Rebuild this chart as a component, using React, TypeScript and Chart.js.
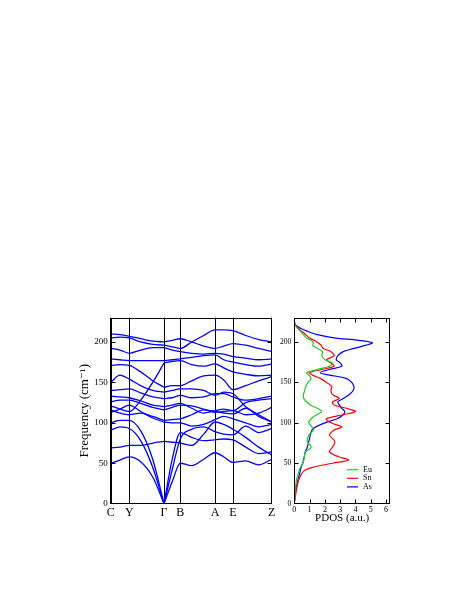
import React, { useEffect, useRef } from "react";
import { Chart, registerables } from "chart.js";

Chart.register(...registerables);

// ---------- data ----------
const kLabels = ["C", "Y", "Γ", "B", "A", "E", "Z"];
const kPositions = [0, 18.6, 53.3, 69.6, 104.3, 122.3, 161];
const pathNodes = [0, 9.3, 18.6, 30, 42, 53.3, 61.5, 69.6, 81, 93, 104.3, 113, 122.3, 135, 148, 161];
const gammaIndex = 5;

const band01 = [50, 54, 58, 52, 33, 0, 27, 50, 47, 55, 63, 58, 51, 53, 48, 55];
const band02 = [91, 95, 93, 78, 45, 0, 42, 80, 92, 95, 89, 86, 85, 96, 88, 93];
const band03 = [100, 103, 103, 90, 55, 0, 55, 88, 82, 78, 79, 80, 79, 70, 62, 64];
const band04 = [69, 70, 72, 72, 75, 77, 76, 75, 72, 86, 101, 98, 92, 82, 70, 60];
const band05 = [116, 112, 110, 112, 108, 103, 104, 105, 110, 116, 114, 112, 111, 118, 108, 101];
const band06 = [113, 117, 122, 114, 106, 101, 100, 100, 96, 98, 104, 108, 105, 100, 95, 98];
const band07 = [126, 128, 128, 124, 119, 116, 119, 122, 121, 117, 113, 114, 115, 110, 112, 119];
const band08 = [133, 132, 131, 127, 122, 120, 122, 124, 118, 112, 115, 117, 115, 125, 128, 130];
const band09 = [140, 141, 142, 137, 132, 130, 131, 134, 131, 132, 136, 136, 132, 128, 130, 133];
const band10 = [150, 159, 154, 146, 140, 138, 140, 142, 142, 140, 134, 138, 136, 120, 110, 101];
const band11 = [171, 172, 171, 163, 152, 144, 146, 146, 152, 158, 159, 153, 141, 146, 152, 157];
const band12 = [121, 117, 114, 128, 150, 174, 176, 177, 172, 170, 173, 168, 163, 160, 158, 159];
const band13 = [179, 178, 177, 177, 177, 177, 178, 179, 181, 183, 184, 178, 175, 172, 170, 173];
const band14 = [192, 190, 186, 190, 193, 193, 190, 188, 186, 185, 186, 185, 182, 180, 178, 179];
const band15 = [205, 206, 205, 200, 197, 196, 194, 192, 200, 208, 215, 215, 214, 208, 203, 200];
const band16 = [210, 209, 207, 204, 201, 200, 202, 204, 200, 195, 192, 195, 198, 196, 192, 188];
const bands = [band01, band02, band03, band04, band05, band06, band07, band08, band09, band10, band11, band12, band13, band14, band15, band16];

const freqTicks = [0, 50, 100, 150, 200];
const freqMax = 230;

const pdosFreq = [0, 10, 20, 30, 40, 45, 50, 54, 58, 64, 70, 77, 85, 91, 95, 100, 105, 110, 114, 118, 122, 126, 130, 135, 140, 145, 150, 155, 159, 162, 166, 170, 174, 178, 183, 188, 192, 196, 199, 202, 205, 209, 213, 217, 221, 226, 230];
const pdosEu = [0, 0.03, 0.08, 0.15, 0.3, 0.4, 0.55, 0.62, 0.66, 0.72, 1.1, 0.85, 0.95, 1.25, 1.15, 0.95, 1.1, 1.45, 1.8, 1.5, 1.05, 0.8, 0.62, 0.6, 0.68, 0.75, 0.9, 1.1, 0.95, 0.8, 1.5, 2.3, 2.5, 2.0, 1.8, 1.85, 1.5, 1.2, 1.25, 1.1, 0.8, 0.6, 0.4, 0.2, 0.05, 0, 0];
const pdosSn = [0, 0.08, 0.17, 0.3, 0.6, 1.2, 2.5, 3.55, 2.9, 2.3, 2.5, 2.65, 2.3, 2.6, 3.1, 2.4, 2.1, 3.2, 4.0, 3.4, 2.6, 2.5, 2.95, 2.5, 2.4, 2.45, 2.1, 1.7, 1.2, 1.0, 1.8, 2.6, 2.4, 2.1, 2.6, 2.4, 1.9, 1.75, 1.55, 1.3, 1.0, 0.75, 0.5, 0.25, 0.05, 0, 0];
const pdosAs = [0, 0.05, 0.12, 0.25, 0.38, 0.45, 0.55, 0.6, 0.65, 0.72, 0.85, 0.95, 1.05, 1.15, 1.4, 2.0, 2.8, 3.2, 3.3, 3.1, 2.95, 2.85, 3.2, 3.6, 3.85, 3.9, 3.75, 3.4, 2.3, 1.7, 2.3, 3.1, 3.0, 2.75, 2.85, 3.2, 3.9, 4.7, 5.1, 4.2, 2.6, 1.5, 0.9, 0.4, 0.08, 0, 0];
const pdosTicks = [0, 1, 2, 3, 4, 5, 6];
const pdosMax = 6.26;
const speciesLabels = ["Eu", "Sn", "As"];
const speciesColors = ["#22cc22", "#ff0000", "#0000ff"];

const FONT = "'Liberation Serif', 'Times New Roman', 'DejaVu Serif', serif";
const BAND_COLOR = "#0000ff";

// ---------- plugin: frame, inward ticks, legend ----------
const framePlugin = {
  id: "frame",
  afterDatasetsDraw(chart: any, _args: any, opts: any) {
    const { ctx, chartArea: a } = chart;
    ctx.save();
    ctx.strokeStyle = "#000";
    ctx.lineWidth = 1;
    const L = Math.round(a.left) + 0.5;
    const R = Math.round(a.right) - 0.5;
    const T = Math.round(a.top) + 0.5;
    const B = Math.round(a.bottom) - 0.5;
    ctx.strokeRect(L, T, R - L, B - T);
    const tl = 4;
    ctx.beginPath();
    for (const v of opts.yTicks || []) {
      const py = Math.round(chart.scales.y.getPixelForValue(v)) + 0.5;
      ctx.moveTo(L, py); ctx.lineTo(L + tl, py);
      ctx.moveTo(R, py); ctx.lineTo(R - tl, py);
    }
    for (const v of opts.xTicks || []) {
      const px = Math.round(chart.scales.x.getPixelForValue(v)) + 0.5;
      ctx.moveTo(px, B); ctx.lineTo(px, B - tl);
      ctx.moveTo(px, T); ctx.lineTo(px, T + tl);
    }
    ctx.stroke();
    if (opts.legend) {
      ctx.font = "8px " + FONT;
      ctx.textBaseline = "middle";
      ctx.textAlign = "left";
      opts.legend.forEach((item: any, i: number) => {
        const y = a.bottom - 34 + i * 8.6;
        ctx.strokeStyle = item.color;
        ctx.lineWidth = 1.2;
        ctx.beginPath();
        ctx.moveTo(a.right - 43, y);
        ctx.lineTo(a.right - 32, y);
        ctx.stroke();
        ctx.fillStyle = "#000";
        ctx.fillText(item.label, a.right - 27, y);
      });
    }
    ctx.restore();
  },
};

function BandChart() {
  const ref = useRef<HTMLCanvasElement>(null);
  useEffect(() => {
    const datasets: any[] = [];
    bands.forEach((b) => {
      const left = pathNodes.slice(0, gammaIndex + 1).map((x, i) => ({ x, y: b[i] }));
      const right = pathNodes.slice(gammaIndex).map((x, i) => ({ x, y: b[i + gammaIndex] }));
      [left, right].forEach((d) =>
        datasets.push({
          data: d,
          borderColor: BAND_COLOR,
          borderWidth: 1.3,
          pointRadius: 0,
          cubicInterpolationMode: "monotone",
          fill: false,
        })
      );
    });
    const chart = new Chart(ref.current!, {
      type: "line",
      data: { datasets },
      options: {
        animation: false,
        responsive: false,
        events: [],
        layout: { padding: { left: 13, right: 3.3, top: 17.7, bottom: 11.3 } },
        plugins: {
          legend: { display: false },
          tooltip: { enabled: false },
          frame: { yTicks: [50, 100, 150, 200] },
        } as any,
        scales: {
          x: {
            type: "linear",
            min: 0,
            max: kPositions[kPositions.length - 1],
            afterBuildTicks: (s: any) => { s.ticks = kPositions.map((v) => ({ value: v })); },
            afterFit: (s: any) => { s.height = 20; s.paddingLeft = 0; s.paddingRight = 0; },
            ticks: {
              autoSkip: false,
              maxRotation: 0,
              padding: 2,
              color: "#000",
              font: { family: FONT, size: 12 },
              callback: (_v: any, i: number) => kLabels[i],
            },
            grid: { color: "#000", lineWidth: 1, drawTicks: false },
            border: { display: false },
          },
          y: {
            type: "linear",
            min: 0,
            max: freqMax,
            afterBuildTicks: (s: any) => { s.ticks = freqTicks.map((v) => ({ value: v })); },
            afterFit: (s: any) => { s.width = 37.7; s.paddingTop = 0; s.paddingBottom = 0; },
            ticks: { padding: 3, color: "#000", font: { family: FONT, size: 9 } },
            grid: { display: false, drawTicks: false },
            border: { display: false },
            title: {
              display: true,
              text: "Frequency (cm⁻¹)",
              color: "#000",
              font: { family: FONT, size: 13 },
              padding: { top: 4, bottom: 4 },
            },
          },
        },
      },
      plugins: [framePlugin],
    });
    return () => chart.destroy();
  }, []);
  return (
    <canvas
      ref={ref}
      width={215}
      height={235}
      style={{ position: "absolute", left: 60, top: 300, width: 215, height: 235 }}
    />
  );
}

function PdosChart() {
  const ref = useRef<HTMLCanvasElement>(null);
  useEffect(() => {
    const series = [pdosEu, pdosSn, pdosAs];
    const datasets = series.map((s, k) => ({
      data: pdosFreq.map((f, i) => ({ x: s[i], y: f })),
      borderColor: speciesColors[k],
      borderWidth: 1.2,
      pointRadius: 0,
      tension: 0.35,
      fill: false,
    }));
    const chart = new Chart(ref.current!, {
      type: "line",
      data: { datasets },
      options: {
        animation: false,
        responsive: false,
        events: [],
        layout: { padding: { left: 0, right: 10, top: 17.7, bottom: 0 } },
        plugins: {
          legend: { display: false },
          tooltip: { enabled: false },
          frame: {
            yTicks: [50, 100, 150, 200],
            xTicks: [1, 2, 3, 4, 5, 6],
            legend: speciesLabels.map((l, i) => ({ label: l, color: speciesColors[i] })),
          },
        } as any,
        scales: {
          x: {
            type: "linear",
            min: 0,
            max: pdosMax,
            afterBuildTicks: (s: any) => { s.ticks = pdosTicks.map((v) => ({ value: v })); },
            afterFit: (s: any) => { s.height = 31.3; s.paddingLeft = 0; s.paddingRight = 0; },
            ticks: { autoSkip: false, maxRotation: 0, padding: 1, color: "#000", font: { family: FONT, size: 8 } },
            grid: { display: false, drawTicks: false },
            border: { display: false },
            title: {
              display: true,
              text: "PDOS (a.u.)",
              color: "#000",
              font: { family: FONT, size: 11 },
              padding: { top: 0, bottom: 10 },
            },
          },
          y: {
            type: "linear",
            min: 0,
            max: freqMax,
            afterBuildTicks: (s: any) => { s.ticks = freqTicks.map((v) => ({ value: v })); },
            afterFit: (s: any) => { s.width = 24.3; s.paddingTop = 0; s.paddingBottom = 0; },
            ticks: { padding: 3, color: "#000", font: { family: FONT, size: 7.5 } },
            grid: { display: false, drawTicks: false },
            border: { display: false },
          },
        },
      },
      plugins: [framePlugin],
    });
    return () => chart.destroy();
  }, []);
  return (
    <canvas
      ref={ref}
      width={130}
      height={235}
      style={{ position: "absolute", left: 270, top: 300, width: 130, height: 235 }}
    />
  );
}

export default function App() {
  return (
    <div style={{ position: "absolute", left: 0, top: 0, width: 463, height: 599, background: "#fff" }}>
      <BandChart />
      <PdosChart />
    </div>
  );
}
